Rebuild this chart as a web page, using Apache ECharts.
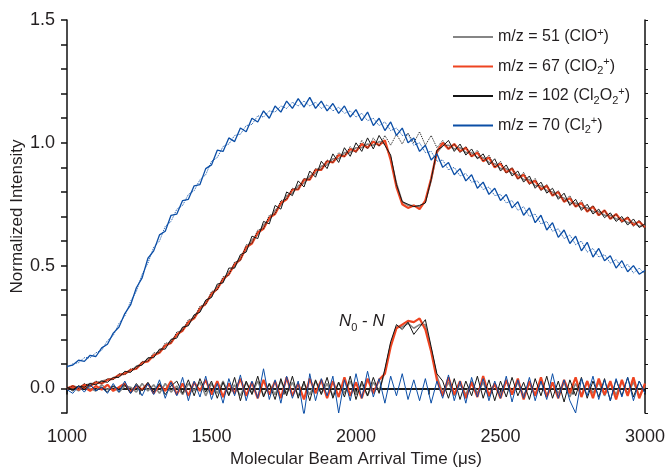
<!DOCTYPE html>
<html>
<head>
<meta charset="utf-8">
<script src="https://cdn.jsdelivr.net/npm/echarts@6/dist/echarts.min.js"></script>
<style>
    html, body { margin: 0; padding: 0; background: #fff; }
    #chart { width: 667px; height: 468px; }
</style>
</head>
<body>
<div id="chart"></div>
<script>
    // arrival time axis (us)
    const times = [
        1000,1020,1040,1060,1080,1100,1120,1140,1160,1180,1200,1220,1240,1260,1280,1300,1320,1340,1360,1380,
        1400,1420,1440,1460,1480,1500,1520,1540,1560,1580,1600,1620,1640,1660,1680,1700,1720,1740,1760,1780,
        1800,1820,1840,1860,1880,1900,1920,1940,1960,1980,2000,2020,2040,2060,2080,2100,2120,2140,2160,2180,
        2200,2220,2240,2260,2280,2300,2320,2340,2360,2380,2400,2420,2440,2460,2480,2500,2520,2540,2560,2580,
        2600,2620,2640,2660,2680,2700,2720,2740,2760,2780,2800,2820,2840,2860,2880,2900,2920,2940,2960,2980,3000
    ];

    // N (laser on) signals
    const clo51 = [
        0,0.01,0.005,0.01,0.02,0.02,0.03,0.035,0.04,0.05,0.065,0.07,0.09,0.1,0.12,0.13,0.155,0.17,0.195,0.215,
        0.245,0.26,0.295,0.315,0.355,0.375,0.415,0.435,0.475,0.495,0.535,0.565,0.605,0.625,0.665,0.685,0.725,0.745,0.785,0.795,
        0.825,0.835,0.865,0.875,0.905,0.91,0.935,0.935,0.96,0.96,0.98,0.98,0.995,0.99,1.005,0.995,0.94,0.835,0.76,0.745,
        0.745,0.74,0.76,0.845,0.96,0.99,0.99,0.975,0.98,0.96,0.96,0.94,0.94,0.92,0.915,0.895,0.895,0.875,0.87,0.85,
        0.85,0.825,0.825,0.805,0.8,0.78,0.775,0.755,0.755,0.735,0.735,0.72,0.72,0.705,0.705,0.69,0.69,0.675,0.675,0.66,0.665
    ];
    const clo2_67 = [
        0,0.005,0,0.015,0.01,0.025,0.02,0.035,0.04,0.055,0.06,0.075,0.08,0.105,0.11,0.135,0.145,0.175,0.185,0.22,
        0.235,0.27,0.285,0.325,0.345,0.385,0.405,0.445,0.465,0.505,0.525,0.575,0.59,0.635,0.65,0.695,0.71,0.755,0.77,0.81,
        0.81,0.85,0.85,0.89,0.89,0.925,0.92,0.95,0.945,0.975,0.965,0.995,0.98,1.005,0.99,1.01,0.93,0.82,0.75,0.735,
        0.745,0.73,0.765,0.855,0.965,1.0,0.975,0.995,0.965,0.98,0.945,0.96,0.925,0.94,0.9,0.915,0.88,0.895,0.855,0.87,
        0.835,0.845,0.81,0.825,0.785,0.8,0.76,0.775,0.74,0.755,0.72,0.74,0.705,0.725,0.69,0.71,0.68,0.695,0.665,0.68,0.655
    ];
    const cl2o2_102 = [
        0.005,-0.005,0.01,0.005,0.02,0.015,0.03,0.025,0.045,0.045,0.07,0.065,0.09,0.095,0.125,0.125,0.16,0.16,0.2,0.205,
        0.25,0.255,0.3,0.31,0.36,0.37,0.425,0.43,0.49,0.49,0.545,0.555,0.62,0.61,0.68,0.67,0.745,0.73,0.8,0.785,
        0.845,0.82,0.885,0.86,0.925,0.895,0.955,0.92,0.98,0.945,1.0,0.965,1.02,0.975,1.03,0.99,0.95,0.83,0.76,0.75,
        0.74,0.745,0.755,0.85,0.97,0.985,1.01,0.965,0.995,0.95,0.975,0.935,0.955,0.91,0.935,0.885,0.91,0.865,0.885,0.84,
        0.865,0.815,0.84,0.795,0.815,0.77,0.795,0.745,0.77,0.725,0.75,0.71,0.73,0.695,0.715,0.68,0.7,0.665,0.69,0.655,0.67
    ];
    const cl2_70 = [
        0.09,0.095,0.115,0.11,0.135,0.13,0.165,0.18,0.225,0.25,0.305,0.34,0.41,0.45,0.53,0.56,0.625,0.64,0.705,0.71,
        0.765,0.77,0.825,0.83,0.895,0.91,0.97,0.965,1.02,1.005,1.06,1.045,1.1,1.085,1.13,1.1,1.15,1.125,1.17,1.14,
        1.18,1.145,1.185,1.14,1.17,1.13,1.16,1.12,1.15,1.105,1.135,1.09,1.125,1.07,1.1,1.05,1.085,1.03,1.06,1.0,
        1.02,0.965,0.99,0.93,0.955,0.9,0.92,0.87,0.895,0.845,0.87,0.815,0.84,0.79,0.815,0.765,0.79,0.735,0.76,0.705,
        0.735,0.675,0.705,0.645,0.675,0.615,0.645,0.59,0.62,0.56,0.595,0.535,0.57,0.52,0.54,0.49,0.52,0.475,0.5,0.465,0.48
    ];

    // N0 (laser off) signals, drawn dotted
    const cl2o2_102_off = [
        0,0.01,0,0.02,0.01,0.03,0.02,0.04,0.035,0.06,0.055,0.08,0.08,0.11,0.11,0.145,0.145,0.185,0.185,0.23,
        0.235,0.28,0.285,0.335,0.34,0.395,0.4,0.455,0.46,0.515,0.52,0.585,0.59,0.645,0.65,0.705,0.71,0.765,0.77,0.815,
        0.81,0.855,0.85,0.895,0.89,0.93,0.92,0.96,0.945,0.985,0.96,1.01,0.975,1.02,0.985,1.03,0.99,1.035,0.995,1.04,
        1.0,1.045,0.99,1.03,0.98,1.01,0.975,0.995,0.96,0.985,0.945,0.97,0.925,0.95,0.9,0.925,0.875,0.9,0.85,0.88,
        0.83,0.855,0.805,0.83,0.785,0.805,0.76,0.785,0.74,0.765,0.72,0.745,0.705,0.725,0.69,0.71,0.675,0.7,0.66,0.685,0.65
    ];
    const cl2_70_off = [
        0.085,0.1,0.105,0.125,0.125,0.145,0.155,0.195,0.215,0.265,0.295,0.355,0.395,0.465,0.51,0.575,0.6,0.66,0.68,0.73,
        0.745,0.79,0.805,0.85,0.87,0.925,0.94,0.985,0.995,1.03,1.035,1.07,1.075,1.11,1.105,1.13,1.125,1.15,1.14,1.165,
        1.15,1.17,1.15,1.165,1.14,1.155,1.13,1.145,1.12,1.13,1.105,1.12,1.09,1.1,1.07,1.085,1.05,1.06,1.03,1.035,
        0.99,1.0,0.96,0.965,0.925,0.93,0.89,0.9,0.865,0.875,0.84,0.845,0.81,0.82,0.785,0.79,0.755,0.765,0.725,0.74,
        0.7,0.71,0.67,0.68,0.64,0.65,0.61,0.625,0.585,0.6,0.555,0.57,0.535,0.545,0.51,0.525,0.49,0.505,0.47,0.49,0.465
    ];

    // N0 - N difference signals
    const diff51 = [
        0,0.005,-0.01,0.01,0,-0.01,0.015,-0.005,0.01,-0.015,0.01,0.005,-0.015,0.02,-0.01,0.015,-0.02,0.02,-0.015,0.01,
        -0.025,0.02,-0.01,0.025,-0.03,0.02,-0.02,0.03,-0.025,0.015,-0.03,0.025,-0.02,0.03,-0.03,0.02,-0.025,0.03,-0.02,0.025,
        -0.03,0.02,-0.025,0.03,-0.02,0.02,-0.03,0.025,-0.02,0.03,-0.025,0.02,-0.03,0.025,-0.01,0.07,0.18,0.25,0.25,0.265,
        0.245,0.26,0.26,0.16,0.05,-0.02,0.025,-0.03,0.02,-0.025,0.03,-0.02,0.025,-0.035,0.02,-0.025,0.03,-0.02,0.025,-0.03,
        0.02,-0.025,0.03,-0.03,0.02,-0.02,0.025,-0.035,0.02,-0.025,0.03,-0.02,0.025,-0.03,0.02,-0.025,0.03,-0.02,0.025,-0.03,0.01
    ];
    const diff67 = [
        0,0.01,-0.005,0.005,-0.01,0.01,-0.005,0.015,-0.01,0.005,0.02,-0.015,0.01,-0.005,0.02,-0.02,0.015,-0.01,0.03,-0.025,
        0.02,-0.03,0.025,-0.01,0.035,-0.025,0.03,-0.035,0.02,-0.02,0.04,-0.03,0.025,-0.04,0.035,-0.025,0.03,-0.04,0.045,-0.03,
        0.02,-0.045,0.04,-0.02,0.035,-0.04,0.03,-0.035,0.045,-0.03,0.025,-0.04,0.04,-0.02,0.035,0.06,0.17,0.245,0.26,0.275,
        0.27,0.285,0.24,0.15,0.035,-0.03,0.045,-0.025,0.03,-0.04,0.025,-0.035,0.05,-0.03,0.02,-0.04,0.035,-0.025,0.04,-0.045,
        0.03,-0.03,0.045,-0.035,0.025,-0.04,0.035,-0.02,0.045,-0.035,0.03,-0.04,0.04,-0.025,0.03,-0.045,0.035,-0.03,0.045,-0.04,0.02
    ];
    const diff102 = [
        0.005,-0.01,0.01,-0.005,0.015,-0.01,0.005,-0.015,0.01,-0.005,0.015,-0.02,0.02,-0.01,0.025,-0.015,0.02,-0.025,0.01,0.03,
        -0.02,0.035,-0.03,0.04,-0.015,0.03,-0.04,0.025,-0.03,0.045,-0.05,0.03,-0.025,0.05,-0.035,0.02,-0.045,0.04,-0.03,0.05,
        -0.04,0.03,-0.05,0.035,-0.025,0.045,-0.04,0.025,-0.035,0.05,-0.045,0.03,-0.03,0.045,-0.02,0.08,0.19,0.26,0.24,0.27,
        0.22,0.25,0.28,0.17,0.06,0.03,-0.04,0.04,-0.045,0.03,-0.03,0.05,-0.04,0.035,-0.05,0.03,-0.035,0.045,-0.03,0.025,
        -0.045,0.04,-0.03,0.05,-0.04,0.03,-0.055,0.035,-0.03,0.045,-0.04,0.03,-0.035,0.04,-0.05,0.035,-0.03,0.045,-0.035,0.03,-0.02
    ];
    const diff70 = [
        -0.005,-0.02,0.01,-0.015,0.015,-0.01,0.005,-0.02,0.02,-0.015,0.03,-0.02,0.015,-0.03,0.02,-0.025,0.035,-0.04,0.025,-0.03,
        0.045,-0.05,0.03,-0.035,0.05,-0.045,0.02,-0.06,0.04,-0.03,0.055,-0.05,0.03,-0.04,0.08,-0.045,0.035,-0.06,0.05,-0.04,
        0.03,-0.11,0.06,-0.05,0.04,-0.03,0.05,-0.1,0.035,-0.05,0.06,-0.04,0.07,-0.035,0.04,-0.06,0.05,-0.03,0.06,-0.045,
        0.035,-0.05,0.04,-0.06,0.03,-0.04,0.055,-0.05,0.03,-0.06,0.045,-0.035,0.04,-0.05,0.03,-0.04,0.05,-0.055,0.035,-0.04,
        0.045,-0.05,0.03,-0.045,0.06,-0.04,0.035,-0.05,-0.1,0.04,-0.03,0.05,-0.045,0.035,-0.05,0.04,-0.035,0.045,-0.05,0.03,-0.02
    ];

    // legend / series names and their rich-text labels
    const names = ['m/z = 51', 'm/z = 67', 'm/z = 102', 'm/z = 70'];
    const legendLabels = {
        'm/z = 51': 'm/z = 51 (ClO{sup|+})',
        'm/z = 67': 'm/z = 67 (ClO{sub|2}{sup|+})',
        'm/z = 102': 'm/z = 102 (Cl{sub|2}O{sub|2}{sup|+})',
        'm/z = 70': 'm/z = 70 (Cl{sub|2}{sup|+})'
    };

    const FONT = '"Liberation Sans", Arial, sans-serif';
    const TXT = '#231f20';
    const colors = { grey: '#858585', red: '#ee4421', black: '#151515', blue: '#0b4ea6' };

    function pairs(arr) {
        return times.map(function (t, i) { return [t, arr[i]]; });
    }

    function line(name, arr, color, width, type, z) {
        return {
            name: name,
            type: 'line',
            data: pairs(arr),
            symbol: 'none',
            showSymbol: false,
            lineStyle: { color: color, width: width, type: type || 'solid' },
            itemStyle: { color: color },
            z: z || 2,
            silent: true
        };
    }

    const chart = echarts.init(document.getElementById('chart'));
    chart.setOption({
        animation: false,
        textStyle: { fontFamily: FONT },
        // fixed plot box, labels are allowed to sit outside it
        grid: { left: 67, right: 22, top: 20, bottom: 55, containLabel: false, outerBoundsMode: 'none' },
        legend: {
            left: 447,
            top: 22,
            orient: 'vertical',
            itemWidth: 40,
            itemHeight: 14,
            itemGap: 9.5,
            data: names,
            // hide the symbol the line legend icon draws, keep only the line
            itemStyle: { opacity: 0 },
            formatter: function (n) { return legendLabels[n]; },
            textStyle: {
                fontFamily: FONT,
                fontSize: 16,
                color: TXT,
                lineHeight: 20,
                rich: {
                    sup: { fontSize: 11, verticalAlign: 'top', color: TXT, fontFamily: FONT },
                    sub: { fontSize: 11, verticalAlign: 'bottom', color: TXT, fontFamily: FONT }
                }
            }
        },
        xAxis: [
            {
                type: 'value',
                min: 1000, max: 3000, interval: 250,
                name: 'Molecular Beam Arrival Time (\u03bcs)',
                nameLocation: 'middle',
                nameGap: 37,
                nameTextStyle: { fontSize: 17, color: TXT, fontFamily: FONT },
                axisLine: { lineStyle: { color: '#111', width: 1.5 } },
                axisTick: { length: 6, lineStyle: { color: '#111', width: 1.5 } },
                axisLabel: {
                    fontSize: 18, color: TXT, margin: 15,
                    formatter: function (v) { return v % 500 === 0 ? String(v) : ''; }
                },
                splitLine: { show: false }
            },
            {
                type: 'value', position: 'top',
                min: 1000, max: 3000, interval: 250,
                axisLine: { lineStyle: { color: '#111', width: 1.5 } },
                axisTick: { inside: true, length: 3, lineStyle: { color: '#111' } },
                axisLabel: { show: false },
                splitLine: { show: false }
            }
        ],
        yAxis: [
            {
                type: 'value',
                min: -0.1, max: 1.5, interval: 0.1,
                name: 'Normalized Intensity',
                nameLocation: 'middle',
                nameGap: 41,
                nameMoveOverlap: false,
                nameTextStyle: { fontSize: 17, color: TXT, fontFamily: FONT },
                axisLine: { show: true, lineStyle: { color: '#111', width: 1.5 } },
                axisTick: { show: true, length: 6, lineStyle: { color: '#111', width: 1.5 } },
                axisLabel: {
                    fontSize: 18, color: TXT, margin: 12,
                    formatter: function (v) {
                        const k = Math.round(v * 10);
                        return k >= 0 && k % 5 === 0 ? (k / 10).toFixed(1) : '';
                    }
                },
                splitLine: { show: false }
            },
            {
                type: 'value', position: 'right',
                min: -0.1, max: 1.5, interval: 0.1,
                axisLine: { show: true, lineStyle: { color: '#111', width: 1.5 } },
                axisTick: { show: true, length: 3, lineStyle: { color: '#111' } },
                axisLabel: { show: false },
                splitLine: { show: false }
            }
        ],
        graphic: [{
            type: 'text',
            left: 339,
            top: 313,
            style: {
                text: '{i|N}{s|0}{n| - }{i|N}',
                fill: TXT,
                rich: {
                    i: { fontSize: 17, fontStyle: 'italic', fontFamily: FONT, fill: TXT, verticalAlign: 'top', lineHeight: 20 },
                    s: { fontSize: 11, fontFamily: FONT, fill: TXT, verticalAlign: 'bottom', lineHeight: 20 },
                    n: { fontSize: 17, fontFamily: FONT, fill: TXT, verticalAlign: 'top', lineHeight: 20 }
                }
            }
        }],
        series: [
            line(names[0], clo51, colors.grey, 1.6, 'solid', 2),
            line(names[0], diff51, colors.grey, 1.6, 'solid', 2),
            line(names[1], clo2_67, colors.red, 2.2, 'solid', 3),
            line(names[1], diff67, colors.red, 2.2, 'solid', 3),
            line('N0 102', cl2o2_102_off, colors.black, 1, 'dotted', 3),
            line(names[2], cl2o2_102, colors.black, 1, 'solid', 4),
            line(names[2], diff102, colors.black, 1, 'solid', 4),
            line('N0 70', cl2_70_off, colors.blue, 1, 'dotted', 4),
            line(names[3], cl2_70, colors.blue, 1.3, 'solid', 5),
            line(names[3], diff70, colors.blue, 1, 'solid', 5)
        ]
    });
</script>
</body>
</html>
